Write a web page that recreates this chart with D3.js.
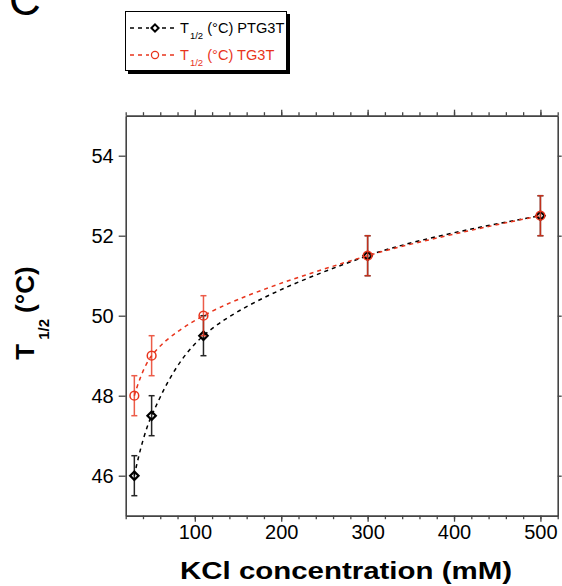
<!DOCTYPE html>
<html>
<head>
<meta charset="utf-8">
<script src="https://cdn.jsdelivr.net/npm/d3@7"></script>
<style>
  html, body { margin: 0; padding: 0; background: #fff; }
  svg { display: block; font-family: "Liberation Sans", Arial, sans-serif; }
</style>
</head>
<body>
<svg id="chart" width="562" height="586"></svg>
<script>
// ---- data ----
const kcl = [30, 50, 110, 300, 500];
const ptg3t = [46, 47.5, 49.5, 51.5, 52.5];
const ptg3tErr = [0.5, 0.5, 0.5, 0.5, 0.5];
const tg3t = [48, 49, 50, 51.5, 52.5];
const tg3tErr = [0.5, 0.5, 0.5, 0.5, 0.5];
const xMajorTicks = [100, 200, 300, 400, 500];
const yMajorTicks = [46, 48, 50, 52, 54];
const xDomain = [20, 520];
const yDomain = [45, 55];

const RED = "#e8341c";
const AXIS = "#444";

const svg = d3.select("#chart");
const L = 125.7, R = 557.7, T = 115.7, B = 515.7;
const x = d3.scaleLinear().domain(xDomain).range([L, R]);
const y = d3.scaleLinear().domain(yDomain).range([B, T]);
const xMinorTicks = d3.range(xDomain[0], xDomain[1] + 1, 20);

// panel letter
svg.append("text").attr("x", 9).attr("y", 15).attr("font-size", 44).attr("fill", "#000").text("C");

function styleAxis(g) {
  g.selectAll("path.domain").attr("stroke", AXIS).attr("stroke-width", 1.6);
  g.selectAll(".tick line").attr("stroke", AXIS).attr("stroke-width", 1.3);
  g.selectAll(".tick text").attr("fill", "#000").attr("font-size", 20)
    .attr("font-family", "'Liberation Sans', Arial, sans-serif");
}

// minor x ticks (bottom, top)
svg.append("g").attr("transform", `translate(0,${B})`)
  .call(d3.axisBottom(x).tickValues(xMinorTicks).tickSize(3.5).tickSizeOuter(0).tickFormat(""))
  .call(styleAxis);
svg.append("g").attr("transform", `translate(0,${T})`)
  .call(d3.axisTop(x).tickValues(xMinorTicks).tickSize(3.5).tickSizeOuter(0).tickFormat(""))
  .call(styleAxis);
// major x ticks
svg.append("g").attr("transform", `translate(0,${B})`)
  .call(d3.axisBottom(x).tickValues(xMajorTicks).tickSize(6).tickSizeOuter(0).tickPadding(3).tickFormat(d3.format("d")))
  .call(styleAxis);
svg.append("g").attr("transform", `translate(0,${T})`)
  .call(d3.axisTop(x).tickValues(xMajorTicks).tickSize(6).tickSizeOuter(0).tickFormat(""))
  .call(styleAxis);
// y axes
svg.append("g").attr("transform", `translate(${L},0)`)
  .call(d3.axisLeft(y).tickValues(yMajorTicks).tickSize(7).tickSizeOuter(0).tickPadding(5).tickFormat(d3.format("d")))
  .call(styleAxis);
svg.append("g").attr("transform", `translate(${R},0)`)
  .call(d3.axisRight(y).tickValues(yMajorTicks).tickSize(4).tickSizeOuter(0).tickFormat(""))
  .call(styleAxis);

// axis titles
svg.append("text").attr("x", 346).attr("y", 579).attr("text-anchor", "middle")
  .attr("font-size", 24).attr("font-weight", "bold").attr("fill", "#000")
  .attr("textLength", 332).attr("lengthAdjust", "spacingAndGlyphs")
  .text("KCl concentration (mM)");

const yt = svg.append("text").attr("transform", "translate(34,313) rotate(-90)")
  .attr("text-anchor", "middle").attr("font-weight", "bold").attr("fill", "#000").attr("font-size", 26);
yt.append("tspan").text("T");
yt.append("tspan").attr("font-size", 15).attr("dy", 15).attr("dx", 4).text("1/2");
yt.append("tspan").attr("dy", -15).attr("dx", 6).text("(°C)");

// series
const series = [
  { vals: ptg3t, errs: ptg3tErr, color: "#000", marker: "diamond", errOpacity: 0.85 },
  { vals: tg3t, errs: tg3tErr, color: RED, marker: "circle", errOpacity: 0.8 }
];

const line = d3.line().x(d => x(d[0])).y(d => y(d[1])).curve(d3.curveCatmullRom.alpha(0.5));
const diamondPath = "M0,-4.2L4.2,0L0,4.2L-4.2,0Z";
const legendDiamond = "M0,-3.6L3.6,0L0,3.6L-3.6,0Z";

series.forEach(s => {
  const pts = kcl.map((k, i) => [k, s.vals[i], s.errs[i]]);
  svg.append("path").datum(pts).attr("d", line).attr("fill", "none")
    .attr("stroke", s.color).attr("stroke-width", 1.5).attr("stroke-dasharray", "4,4");
  const eb = svg.append("g").attr("stroke", s.color).attr("stroke-width", 1.5).attr("opacity", s.errOpacity);
  pts.forEach(p => {
    const cx = x(p[0]), y1 = y(p[1] - p[2]), y2 = y(p[1] + p[2]);
    eb.append("line").attr("x1", cx).attr("x2", cx).attr("y1", y1).attr("y2", y2);
    eb.append("line").attr("x1", cx - 3).attr("x2", cx + 3).attr("y1", y1).attr("y2", y1);
    eb.append("line").attr("x1", cx - 3).attr("x2", cx + 3).attr("y1", y2).attr("y2", y2);
  });
  const sym = s.marker === "diamond" ? diamondPath : d3.symbol(d3.symbolCircle, 60)();
  svg.append("g").selectAll("path").data(pts).join("path")
    .attr("transform", p => `translate(${x(p[0])},${y(p[1])})`)
    .attr("d", sym).attr("fill", "none").attr("stroke", s.color)
    .attr("stroke-width", s.marker === "diamond" ? 2.2 : 1.5);
});

// legend
const lg = svg.append("g");
lg.append("rect").attr("x", 128).attr("y", 14).attr("width", 162).attr("height", 60).attr("fill", "#000");
lg.append("rect").attr("x", 125.5).attr("y", 11.5).attr("width", 161).attr("height", 59)
  .attr("fill", "#fff").attr("stroke", "#000").attr("stroke-width", 1);
const legendItems = [
  { label: " (°C) PTG3T", color: "#000", marker: "diamond", yy: 28 },
  { label: " (°C) TG3T", color: RED, marker: "circle", yy: 55 }
];
legendItems.forEach(it => {
  lg.append("line").attr("x1", 130).attr("x2", 177).attr("y1", it.yy).attr("y2", it.yy)
    .attr("stroke", it.color).attr("stroke-width", 1.5).attr("stroke-dasharray", "4,4");
  lg.append("rect").attr("x", 149).attr("y", it.yy - 5).attr("width", 12).attr("height", 10).attr("fill", "#fff");
  const sym = it.marker === "diamond" ? legendDiamond : d3.symbol(d3.symbolCircle, 40)();
  lg.append("path").attr("transform", `translate(155,${it.yy})`).attr("d", sym)
    .attr("fill", "none").attr("stroke", it.color).attr("stroke-width", it.marker === "diamond" ? 2 : 1.3);
  const t = lg.append("text").attr("x", 180).attr("y", it.yy + 5).attr("font-size", 14.6).attr("fill", it.color);
  t.append("tspan").text("T");
  t.append("tspan").attr("font-size", 9.5).attr("dy", 6).attr("dx", 1).text("1/2");
  t.append("tspan").attr("dy", -6).text(it.label);
});
</script>
</body>
</html>
